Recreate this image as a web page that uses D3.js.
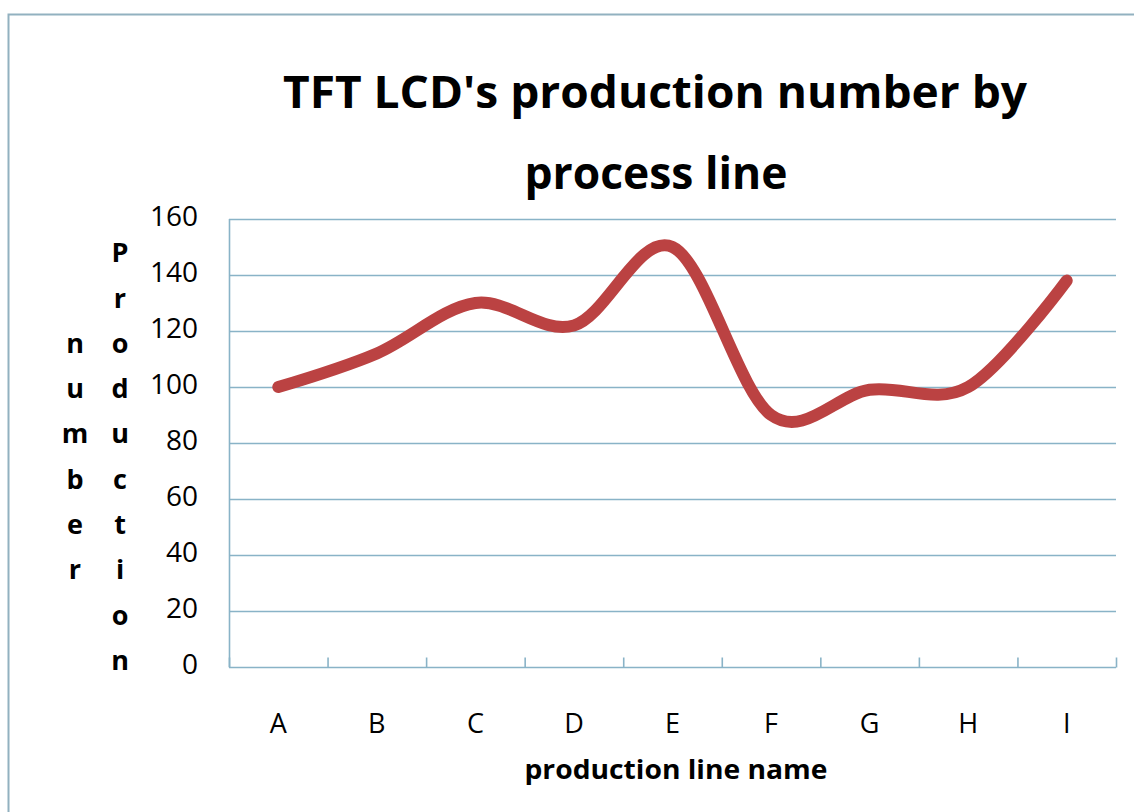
<!DOCTYPE html>
<html>
<head>
<meta charset="utf-8">
<script src="https://cdn.jsdelivr.net/npm/d3@7"></script>
<style>
  html, body { margin: 0; padding: 0; background: #ffffff; }
  svg { display: block; }
</style>
</head>
<body>
<svg id="chart" width="1134" height="812"></svg>
<script>
const categories = ["A", "B", "C", "D", "E", "F", "G", "H", "I"];
const values = [100, 112, 130, 122, 150, 90, 99, 100, 138];
const yTicks = [0, 20, 40, 60, 80, 100, 120, 140, 160];
const titleLines = ["TFT LCD's production number by", "process line"];
const xTitle = "production line name";
const yTitleCol1 = "Production";
const yTitleCol2 = "number";

(function () {
const svg = d3.select("#chart");
const font = "'Open Sans', 'Noto Sans', sans-serif";
const gridColor = "#89b3c7";

// outer frame
svg.append("rect")
  .attr("x", 8.5).attr("y", 14.5)
  .attr("width", 1150).attr("height", 830)
  .attr("fill", "#ffffff")
  .attr("stroke", "#92b1c0").attr("stroke-width", 2);

const pLeft = 229, pRight = 1116, pTop = 219, pBottom = 667;

const x = d3.scaleBand().domain(categories).range([pLeft, pRight]);
const y = d3.scaleLinear().domain([0, 160]).range([pBottom, pTop]);

// gridlines
svg.append("g").selectAll("line").data(yTicks.filter(d => d > 0)).join("line")
  .attr("x1", pLeft).attr("x2", pRight)
  .attr("y1", d => y(d) + 0.5).attr("y2", d => y(d) + 0.5)
  .attr("stroke", gridColor).attr("stroke-width", 1.6);

// left axis line
svg.append("line")
  .attr("x1", pLeft + 0.5).attr("x2", pLeft + 0.5)
  .attr("y1", pTop).attr("y2", pBottom)
  .attr("stroke", gridColor).attr("stroke-width", 1.6);

// bottom axis
const xg = svg.append("g").attr("transform", `translate(0,${pBottom + 0.5})`);
xg.append("line").attr("x1", pLeft).attr("x2", pRight).attr("y1", 0).attr("y2", 0)
  .attr("stroke", gridColor).attr("stroke-width", 1.6);
const boundaries = categories.map(c => x(c)).concat([pRight]);
xg.selectAll("line.tick").data(boundaries).join("line").attr("class", "tick")
  .attr("x1", d => d + 0.5).attr("x2", d => d + 0.5)
  .attr("y1", 0).attr("y2", -10)
  .attr("stroke", gridColor).attr("stroke-width", 1.6);
xg.selectAll("text.cat").data(categories).join("text").attr("class", "cat")
  .attr("x", d => x(d) + x.bandwidth() / 2)
  .attr("y", 58)
  .attr("text-anchor", "middle")
  .attr("dominant-baseline", "middle")
  .attr("font-family", font).attr("font-size", 27)
  .attr("fill", "#000")
  .text(d => d);

// y tick labels
svg.append("g").selectAll("text").data(yTicks).join("text")
  .attr("x", 198)
  .attr("y", d => y(d))
  .attr("text-anchor", "end")
  .attr("dominant-baseline", "middle")
  .attr("font-family", font).attr("font-size", 28)
  .attr("fill", "#000")
  .text(d => d);

// line
const line = d3.line()
  .x((d, i) => x(categories[i]) + x.bandwidth() / 2)
  .y(d => y(d))
  .curve(d3.curveCardinal.tension(0));
svg.append("path")
  .datum(values)
  .attr("d", line)
  .attr("fill", "none")
  .attr("stroke", "#bb4242")
  .attr("stroke-width", 12)
  .attr("stroke-linecap", "round")
  .attr("stroke-linejoin", "round");

// title
svg.append("text")
  .attr("x", 655).attr("y", 108)
  .attr("text-anchor", "middle")
  .attr("font-family", font).attr("font-weight", "bold").attr("font-size", 44)
  .attr("textLength", 744).attr("lengthAdjust", "spacingAndGlyphs")
  .attr("fill", "#000")
  .text(titleLines[0]);
svg.append("text")
  .attr("x", 656).attr("y", 189)
  .attr("text-anchor", "middle")
  .attr("font-family", font).attr("font-weight", "bold").attr("font-size", 44)
  .attr("textLength", 263).attr("lengthAdjust", "spacingAndGlyphs")
  .attr("fill", "#000")
  .text(titleLines[1]);

// x axis title
svg.append("text")
  .attr("x", 676).attr("y", 772)
  .attr("text-anchor", "middle")
  .attr("dominant-baseline", "middle")
  .attr("font-family", font).attr("font-weight", "bold").attr("font-size", 27)
  .attr("textLength", 303).attr("lengthAdjust", "spacingAndGlyphs")
  .attr("fill", "#000")
  .text(xTitle);

// y axis title: stacked letters in two columns
const letterStep = 45.3, letterTop = 255;
svg.append("g").selectAll("text").data(yTitleCol1.split("")).join("text")
  .attr("x", 120)
  .attr("y", (d, i) => letterTop + i * letterStep)
  .attr("text-anchor", "middle")
  .attr("dominant-baseline", "middle")
  .attr("font-family", font).attr("font-weight", "bold").attr("font-size", 27)
  .attr("fill", "#000")
  .text(d => d);
svg.append("g").selectAll("text").data(yTitleCol2.split("")).join("text")
  .attr("x", 75)
  .attr("y", (d, i) => letterTop + (i + 2) * letterStep)
  .attr("text-anchor", "middle")
  .attr("dominant-baseline", "middle")
  .attr("font-family", font).attr("font-weight", "bold").attr("font-size", 27)
  .attr("fill", "#000")
  .text(d => d);
})();
</script>
</body>
</html>
